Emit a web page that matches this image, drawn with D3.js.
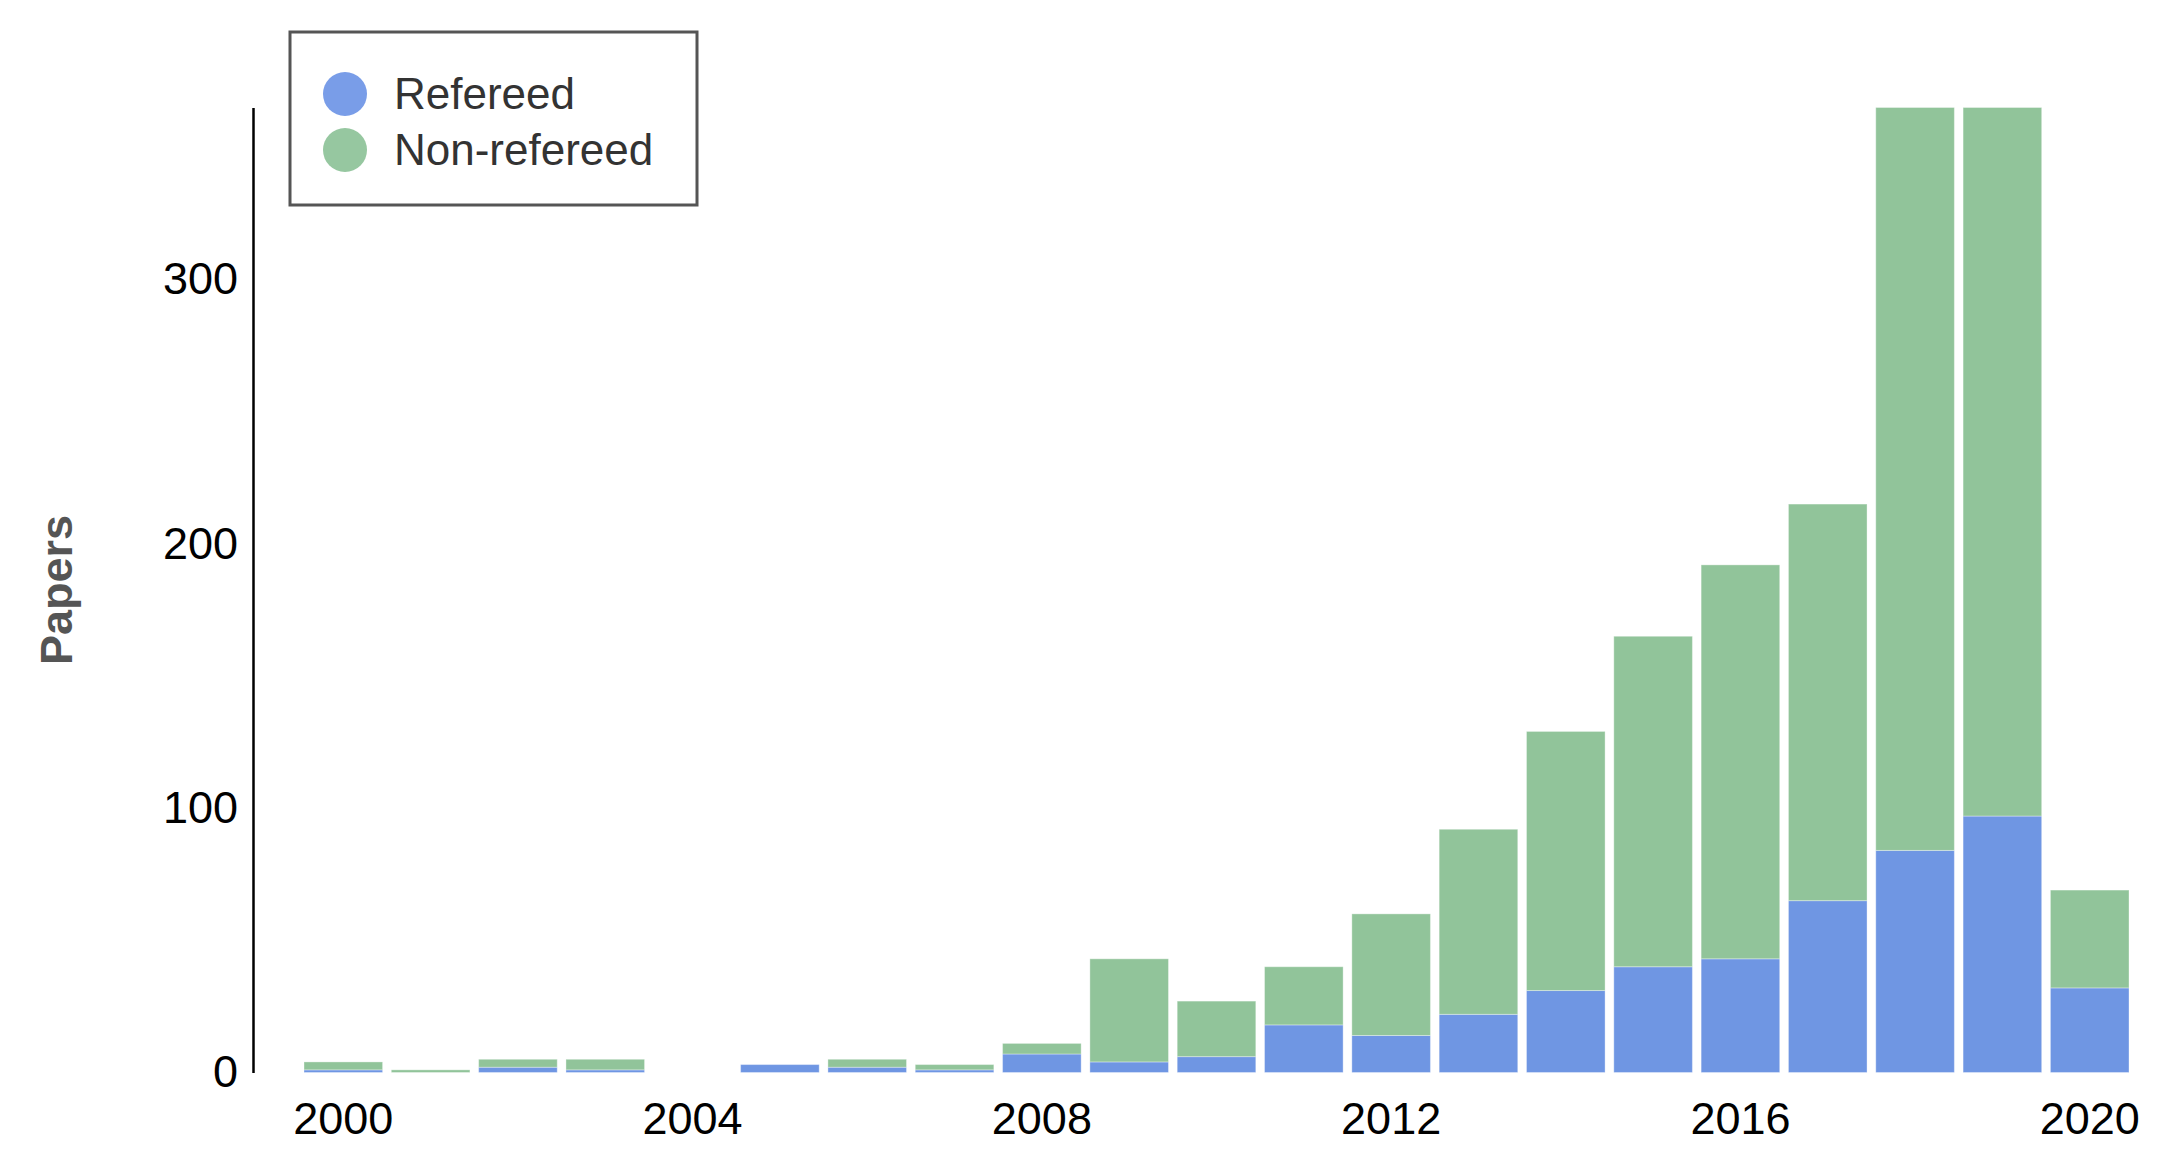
<!DOCTYPE html>
<html>
<head>
<meta charset="utf-8">
<script src="https://cdn.jsdelivr.net/npm/d3@7"></script>
<style>
  html, body { margin: 0; padding: 0; background: #fff; }
  svg { display: block; }
  text { font-family: "Liberation Sans", Arial, Helvetica, sans-serif; }
</style>
</head>
<body>
<svg id="chart" width="2160" height="1164"></svg>
<script>
const years = [2000, 2001, 2002, 2003, 2004, 2005, 2006, 2007, 2008, 2009, 2010,
               2011, 2012, 2013, 2014, 2015, 2016, 2017, 2018, 2019, 2020];
const refereed    = [1, 0, 2, 1, 0, 3, 2, 1, 7, 4, 6, 18, 14, 22, 31, 40, 43, 65, 84, 97, 32];
const nonRefereed = [3, 1, 3, 4, 0, 0, 3, 2, 4, 39, 21, 22, 46, 70, 98, 125, 149, 150, 281, 268, 37];
const seriesNames = ["Refereed", "Non-refereed"];
const xTickYears = [2000, 2004, 2008, 2012, 2016, 2020];
const yTickValues = [0, 100, 200, 300];
const yLabel = "Papers";

const barColors = ["#6f96e3", "#91c49a"];
const legendColors = ["#799de8", "#96c7a0"];

const svg = d3.select("#chart");

const rows = years.map((y, i) => ({ year: y, Refereed: refereed[i], "Non-refereed": nonRefereed[i] }));
const stacked = d3.stack().keys(seriesNames)(rows);

const x = d3.scaleBand()
  .domain(years)
  .range([304, 2129])
  .paddingInner(0.1)
  .paddingOuter(0);

const yMax = d3.max(rows, d => d.Refereed + d["Non-refereed"]);
const y = d3.scaleLinear()
  .domain([0, yMax])
  .range([1072.5, 107.5]);

// bars
svg.append("g")
  .selectAll("g")
  .data(stacked)
  .join("g")
    .attr("fill", (d, i) => barColors[i])
  .selectAll("rect")
  .data(d => d)
  .join("rect")
    .attr("x", d => x(d.data.year))
    .attr("y", d => y(d[1]))
    .attr("width", x.bandwidth())
    .attr("height", d => Math.max(0, y(d[0]) - y(d[1])))
    .attr("stroke", "#ffffff")
    .attr("stroke-opacity", 0.35)
    .attr("stroke-width", 1);

// y axis
const yAxis = svg.append("g")
  .attr("transform", "translate(253,0)")
  .call(d3.axisLeft(y).tickValues(yTickValues).tickSize(0).tickSizeOuter(0).tickPadding(15).tickFormat(d3.format("d")));
yAxis.select(".domain").attr("stroke", "#000").attr("stroke-width", 2.5);
yAxis.selectAll("text").attr("font-size", 45).attr("fill", "#000")
  .attr("font-family", "'Liberation Sans', Arial, sans-serif");

// x axis
const xAxis = svg.append("g")
  .attr("transform", "translate(0,1072.5)")
  .call(d3.axisBottom(x).tickValues(xTickYears).tickSize(0).tickPadding(29.5).tickFormat(d3.format("d")));
xAxis.select(".domain").remove();
xAxis.selectAll("text").attr("font-size", 45).attr("fill", "#000")
  .attr("font-family", "'Liberation Sans', Arial, sans-serif");

// y label
svg.append("text")
  .attr("transform", "translate(56,590) rotate(-90)")
  .attr("text-anchor", "middle")
  .attr("dominant-baseline", "central")
  .attr("font-size", 45)
  .attr("font-weight", "bold")
  .attr("fill", "#555")
  .text(yLabel);

// legend
const legend = svg.append("g");
legend.append("rect")
  .attr("x", 290).attr("y", 32).attr("width", 407).attr("height", 173)
  .attr("fill", "#fff").attr("stroke", "#555").attr("stroke-width", 3);
const items = legend.selectAll("g.item")
  .data(seriesNames)
  .join("g").attr("class", "item")
  .attr("transform", (d, i) => `translate(345,${94 + i * 56})`);
items.append("circle").attr("r", 22).attr("fill", (d, i) => legendColors[i]);
items.append("text")
  .attr("x", 49).attr("y", 15)
  .attr("font-size", 44)
  .attr("fill", "#333")
  .text(d => d);
</script>
</body>
</html>
